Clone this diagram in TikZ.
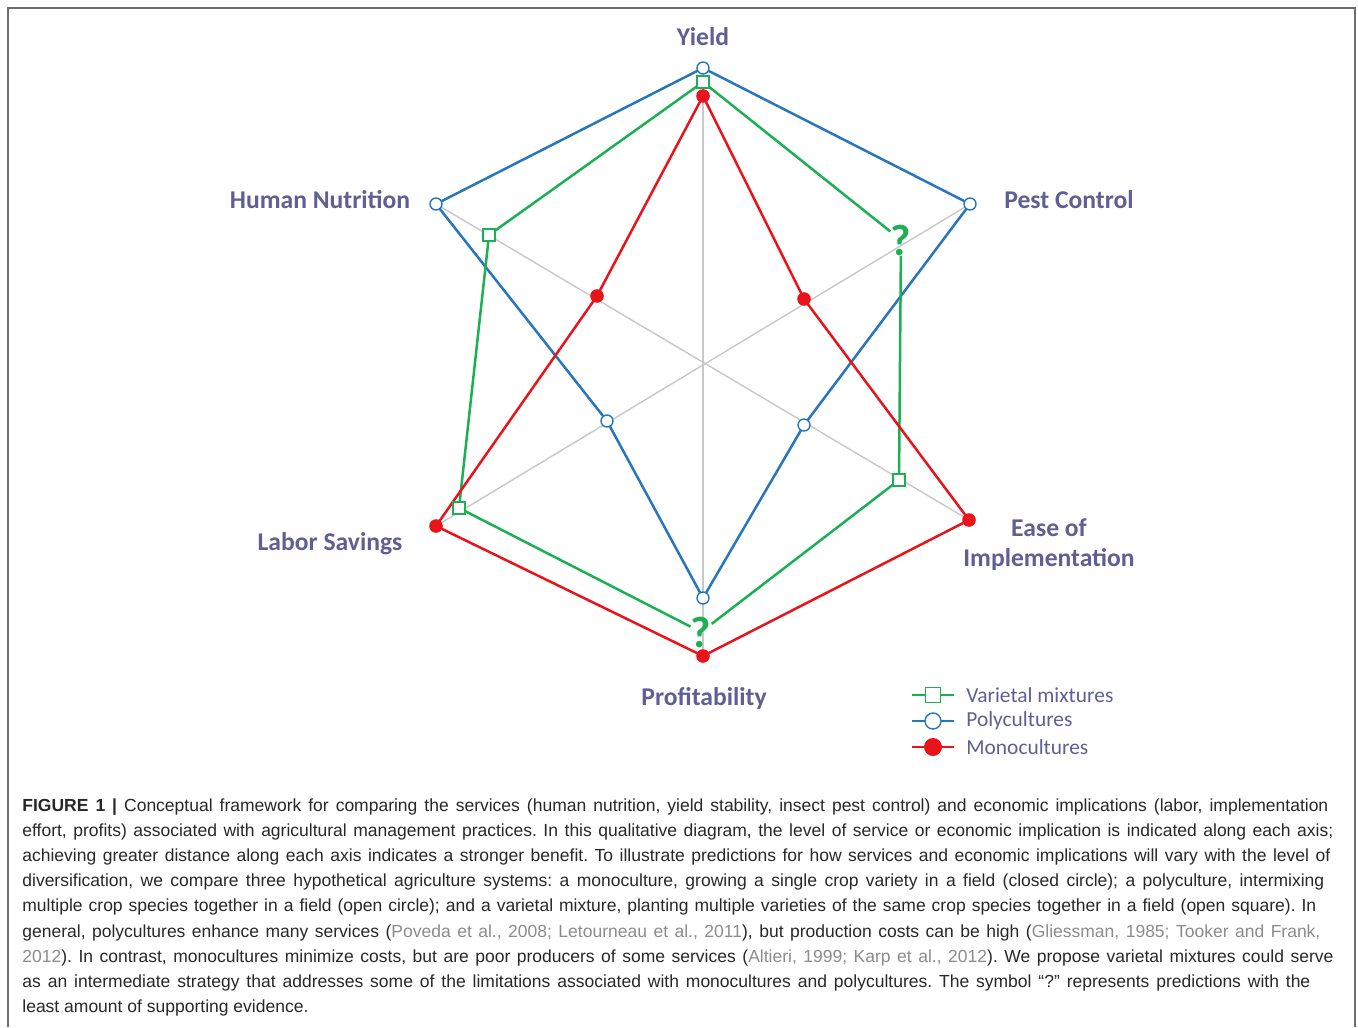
\documentclass[tikz,border=0pt]{standalone}
\usepackage{fontspec}
\setmainfont{Liberation Sans}
\newfontfamily\carl{Carlito}
\definecolor{pblue}{RGB}{40,118,188}
\definecolor{vgreen}{RGB}{28,176,84}
\definecolor{mred}{RGB}{232,20,27}
\definecolor{labtext}{RGB}{95,95,148}
\definecolor{axgray}{RGB}{200,200,200}
\definecolor{captext}{RGB}{40,40,40}
\definecolor{citegray}{RGB}{140,140,140}
\definecolor{framegray}{RGB}{110,110,110}
\tikzset{
  sqm/.style={rectangle, draw=vgreen, fill=white, line width=0.7pt, minimum size=6pt, inner sep=0pt},
  ocm/.style={circle, draw=pblue, fill=white, line width=0.7pt, minimum size=6pt, inner sep=0pt},
  fcm/.style={circle, fill=mred, minimum size=6.8pt, inner sep=0pt},
  axl/.style={axgray, line width=0.7pt},
  gline/.style={vgreen, line width=1.25pt},
  bline/.style={pblue, line width=1.25pt},
  rline/.style={mred, line width=1.25pt},
  axlabel/.style={text=labtext, font=\carl\bfseries\fontsize{12.8}{15}\selectfont, anchor=base, inner sep=0pt},
  leglabel/.style={text=labtext, font=\carl\fontsize{10.7}{13}\selectfont, anchor=west, inner sep=0pt},
  qmark/.style={text=vgreen, font=\carl\bfseries\fontsize{22}{24}\selectfont, inner sep=0pt},
  capline/.style={anchor=base west, inner sep=0pt, text=captext, font=\fontsize{8.75}{10}\selectfont\frenchspacing}
}
\newcommand{\cit}[1]{\textcolor{citegray}{#1}}
\begin{document}
\begin{tikzpicture}[x=0.5pt,y=-0.5pt]
\useasboundingbox (0,0) rectangle (1358,1027);
\fill[white] (0,0) rectangle (1358,1027);
\draw[framegray, line width=0.8pt] (8,1027) -- (8,8) -- (1355,8) -- (1355,1027);

% axis ends
\coordinate (aY) at (703,68);
\coordinate (aP) at (703,656);
\coordinate (aHN) at (436,204);
\coordinate (aE) at (969,520);
\coordinate (aPC) at (970,204);
\coordinate (aL) at (436,526);
\draw[axl] (aY) -- (aP);
\draw[axl] (aHN) -- (aE);
\draw[axl] (aPC) -- (aL);

% data points
\coordinate (bY) at (703,68);
\coordinate (bPC) at (970,204);
\coordinate (bE) at (804,425);
\coordinate (bP) at (703,598);
\coordinate (bL) at (607,421);
\coordinate (bHN) at (436,204);

\coordinate (gY) at (703,82);
\coordinate (gE) at (899,480);
\coordinate (gL) at (459,508);
\coordinate (gHN) at (489,235);

\coordinate (rY) at (703,96);
\coordinate (rPC) at (804,299);
\coordinate (rE) at (969,520);
\coordinate (rP) at (703,656);
\coordinate (rL) at (436,526);
\coordinate (rHN) at (597,296);

\node[qmark] (q1) at (901,240) {?};
\node[qmark] (q2) at (701,632) {?};

% polygons
\draw[bline] (bY) -- (bPC) -- (bE) -- (bP) -- (bL) -- (bHN) -- cycle;
\draw[gline] (gY) -- (q1);
\draw[gline] (q1) -- (gE);
\draw[gline] (gE) -- (q2);
\draw[gline] (q2) -- (gL);
\draw[gline] (gL) -- (gHN) -- (gY);
\draw[rline] (rY) -- (rPC) -- (rE) -- (rP) -- (rL) -- (rHN) -- cycle;

% markers
\foreach \p in {bY,bPC,bE,bP,bL,bHN} \node[ocm] at (\p) {};
\foreach \p in {gY,gE,gL,gHN} \node[sqm] at (\p) {};
\foreach \p in {rY,rPC,rE,rP,rL,rHN} \node[fcm] at (\p) {};

% axis labels
\node[axlabel] (lY) at (703,46) {Yield};
\node[axlabel] (lHN) at (320,209) {Human Nutrition};
\node[axlabel] (lPC) at (1069,209) {Pest Control};
\node[axlabel] (lL) at (330,550) {Labor Savings};
\node[axlabel] (lE1) at (1049,536) {Ease of};
\node[axlabel] (lE2) at (1049,566) {Implementation};
\node[axlabel] (lP) at (704,705) {Profitability};

% legend
\coordinate (l1a) at (912,695); \coordinate (l1b) at (954,695);
\coordinate (l2a) at (912,721); \coordinate (l2b) at (954,721);
\coordinate (l3a) at (912,747); \coordinate (l3b) at (954,747);
\draw[gline] (l1a) -- (l1b);
\draw[bline] (l2a) -- (l2b);
\draw[rline] (l3a) -- (l3b);
\node[sqm, minimum size=7.5pt] (m1) at (933,695) {};
\node[ocm, minimum size=8pt] (m2) at (933,721) {};
\node[fcm, minimum size=9pt] (m3) at (933,747) {};
\node[leglabel] (t1) at (966,695) {Varietal mixtures};
\node[leglabel] (t2) at (966,721) {Polycultures};
\node[leglabel] (t3) at (966,747) {Monocultures};

% caption
\node[capline] (c1) at (22,811) {\makebox[653pt][s]{\textbf{FIGURE 1 |} Conceptual framework for comparing the services (human nutrition, yield stability, insect pest control) and economic implications (labor, implementation}};
\node[capline] (c2) at (22,836.2) {\makebox[655.5pt][s]{effort, profits) associated with agricultural management practices. In this qualitative diagram, the level of service or economic implication is indicated along each axis;}};
\node[capline] (c3) at (22,861.4) {\makebox[654pt][s]{achieving greater distance along each axis indicates a stronger benefit. To illustrate predictions for how services and economic implications will vary with the level of}};
\node[capline] (c4) at (22,886.6) {\makebox[651pt][s]{diversification, we compare three hypothetical agriculture systems: a monoculture, growing a single crop variety in a field (closed circle); a polyculture, intermixing}};
\node[capline] (c5) at (22,911.8) {\makebox[647pt][s]{multiple crop species together in a field (open circle); and a varietal mixture, planting multiple varieties of the same crop species together in a field (open square). In}};
\node[capline] (c6) at (22,937) {\makebox[649pt][s]{general, polycultures enhance many services (\cit{Poveda et al., 2008; Letourneau et al., 2011}), but production costs can be high (\cit{Gliessman, 1985; Tooker and Frank,}}};
\node[capline] (c7) at (22,962.2) {\makebox[655.5pt][s]{\cit{2012}). In contrast, monocultures minimize costs, but are poor producers of some services (\cit{Altieri, 1999; Karp et al., 2012}). We propose varietal mixtures could serve}};
\node[capline] (c8) at (22,987.4) {\makebox[644pt][s]{as an intermediate strategy that addresses some of the limitations associated with monocultures and polycultures. The symbol “?” represents predictions with the}};
\node[capline] (c9) at (22,1012.6) {least amount of supporting evidence.};
\end{tikzpicture}
\end{document}
